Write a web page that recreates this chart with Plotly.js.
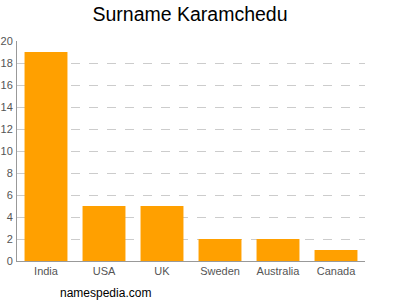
<!DOCTYPE html>
<html><head><meta charset="utf-8">
<script src="https://cdn.plot.ly/plotly-3.0.1.min.js"></script>
<style>body{margin:0;}#c{width:400px;height:300px;}</style>
</head><body><div id="c"></div>
<script>
const countries = ["India", "USA", "UK", "Sweden", "Australia", "Canada"];
const counts = [19, 5, 5, 2, 2, 1];
const yTicks = [0, 2, 4, 6, 8, 10, 12, 14, 16, 18, 20];

Plotly.newPlot('c', [{
  type: 'bar', x: countries, y: counts,
  marker: {color: '#ffa000'}, hoverinfo: 'none'
}], {
  width: 400, height: 300,
  margin: {l: 17, r: 35, t: 41, b: 39},
  paper_bgcolor: '#fff', plot_bgcolor: '#fff',
  bargap: 0.26,
  font: {family: 'Liberation Sans, Arial, sans-serif', color: '#555', size: 11},
  title: {text: 'Surname Karamchedu', x: 0.475, xanchor: 'center', y: 0.953, yanchor: 'middle',
          font: {size: 19.5, color: '#000'}},
  xaxis: {showline: true, linecolor: '#999', linewidth: 1, ticks: '', showgrid: false,
          tickfont: {size: 11, color: '#555'}, fixedrange: true},
  yaxis: {range: [0, 20], tickvals: yTicks, ticktext: yTicks.map(String),
          showline: true, linecolor: '#999', linewidth: 1, ticks: '',
          showgrid: true, gridcolor: '#ccc', griddash: 'dash', gridwidth: 1,
          zeroline: false, tickfont: {size: 11, color: '#555'}, ticklabelstandoff: 1, fixedrange: true},
  annotations: [{text: 'namespedia.com', xref: 'paper', yref: 'paper', x: 0.117, y: -0.105,
                 xanchor: 'left', yanchor: 'top', showarrow: false, font: {size: 12, color: '#000'}}]
}, {displayModeBar: false, staticPlot: true});
</script></body></html>
